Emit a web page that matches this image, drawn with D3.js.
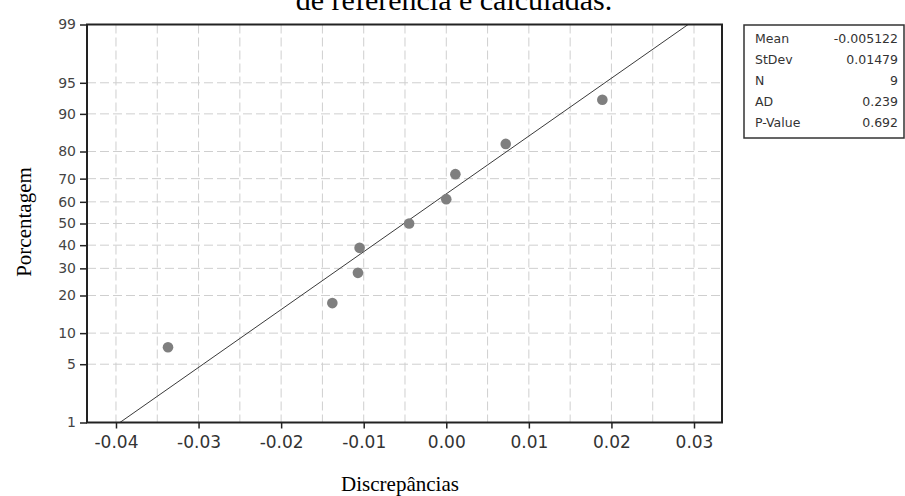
<!doctype html>
<html lang="pt">
<head>
<meta charset="utf-8">
<title>Gráfico de probabilidade normal</title>
<script src="https://cdn.jsdelivr.net/npm/d3@7"></script>
<style>
  body { margin: 0; background: #fff; }
  svg { display: block; }
</style>
</head>
<body>
<script>
// values
var discrepancias = [-0.0337, -0.0138, -0.0107, -0.0105, -0.0045, 0.0000, 0.0011, 0.0072, 0.0189];
var porcentagem   = [7.4, 17.6, 28.2, 38.8, 50.0, 61.2, 71.8, 82.4, 92.6];
var xTicks = [-0.04, -0.03, -0.02, -0.01, 0.00, 0.01, 0.02, 0.03];
var xGrid  = [-0.04, -0.035, -0.03, -0.025, -0.02, -0.015, -0.01, -0.005, 0, 0.005, 0.01, 0.015, 0.02, 0.025, 0.03];
var yTicks = [1, 5, 10, 20, 30, 40, 50, 60, 70, 80, 90, 95, 99];
var statLabels = ["Mean", "StDev", "N", "AD", "P-Value"];
var statValues = ["-0.005122", "0.01479", "9", "0.239", "0.692"];
var mean = -0.005122, stdev = 0.01479;

var svgW = 905, svgH = 496;
var margin = {top: 24.5, right: 183, bottom: 73.5, left: 87};

// inverse normal cdf (Acklam)
function qnorm(p) {
    var a = [-39.69683028665376, 220.9460984245205, -275.9285104469687, 138.3577518672690, -30.66479806614716, 2.506628277459239];
    var b = [-54.47609879822406, 161.5858368580409, -155.6989798598866, 66.80131188771972, -13.28068155288572];
    var c = [-0.007784894002430293, -0.3223964580411365, -2.400758277161838, -2.549732539343734, 4.374664141464968, 2.938163982698783];
    var d = [0.007784695709041462, 0.3224671290700398, 2.445134137142996, 3.754408661907416];
    var pl = 0.02425, q, r;
    if (p < pl) {
        q = Math.sqrt(-2 * Math.log(p));
        return (((((c[0]*q+c[1])*q+c[2])*q+c[3])*q+c[4])*q+c[5]) / ((((d[0]*q+d[1])*q+d[2])*q+d[3])*q+1);
    }
    if (p > 1 - pl) {
        q = Math.sqrt(-2 * Math.log(1 - p));
        return -(((((c[0]*q+c[1])*q+c[2])*q+c[3])*q+c[4])*q+c[5]) / ((((d[0]*q+d[1])*q+d[2])*q+d[3])*q+1);
    }
    q = p - 0.5; r = q * q;
    return (((((a[0]*r+a[1])*r+a[2])*r+a[3])*r+a[4])*r+a[5])*q / (((((b[0]*r+b[1])*r+b[2])*r+b[3])*r+b[4])*r+1);
}

var xScale = d3.scaleLinear()
               .domain([-0.04351, 0.03339])
               .range([margin.left, svgW - margin.right]);

var zScale = d3.scaleLinear()
               .domain([qnorm(0.01), qnorm(0.99)])
               .range([svgH - margin.bottom, margin.top]);
var yScale = function(pct) { return zScale(qnorm(pct / 100)); };

var x0 = margin.left, x1 = svgW - margin.right;
var y0 = svgH - margin.bottom, y1 = margin.top;

var svg = d3.select("body").append("svg")
            .attr("width", svgW)
            .attr("height", svgH);

// title (cut at the top)
svg.append("text")
   .attr("x", 454).attr("y", 9.5)
   .attr("text-anchor", "middle")
   .attr("font-family", "Liberation Serif, Times New Roman, serif")
   .attr("font-size", "30px")
   .attr("fill", "#000")
   .text("de referência e calculadas.");

// grid
svg.append("g").selectAll("line")
   .data(xGrid)
   .enter().append("line")
   .attr("x1", d => xScale(d)).attr("x2", d => xScale(d))
   .attr("y1", y1).attr("y2", y0)
   .attr("stroke", "#cfcfcf").attr("stroke-width", 1)
   .attr("stroke-dasharray", "9,4");

svg.append("g").selectAll("line")
   .data(yTicks.filter(d => d > 1 && d < 99))
   .enter().append("line")
   .attr("x1", x0).attr("x2", x1)
   .attr("y1", d => yScale(d)).attr("y2", d => yScale(d))
   .attr("stroke", "#cfcfcf").attr("stroke-width", 1)
   .attr("stroke-dasharray", "9,4");

// fitted line
var clip = svg.append("clipPath").attr("id", "plotclip")
              .append("rect").attr("x", x0).attr("y", y1).attr("width", x1 - x0).attr("height", y0 - y1);
svg.append("line")
   .attr("clip-path", "url(#plotclip)")
   .attr("x1", xScale(mean + stdev * qnorm(0.01))).attr("y1", yScale(1))
   .attr("x2", xScale(mean + stdev * qnorm(0.99))).attr("y2", yScale(99))
   .attr("stroke", "#3a3a3a").attr("stroke-width", 1);

// points
svg.append("g").selectAll("circle")
   .data(discrepancias)
   .enter().append("circle")
   .attr("cx", d => xScale(d))
   .attr("cy", (d, i) => yScale(porcentagem[i]))
   .attr("r", 5.3)
   .attr("fill", "#7f7f7f");

// axes
var xAxis = d3.axisBottom(xScale)
              .tickValues(xTicks)
              .tickSize(6)
              .tickSizeOuter(0)
              .tickFormat(d3.format(".2f"));
var yAxis = d3.axisLeft(zScale)
              .tickValues(yTicks.map(d => qnorm(d / 100)))
              .tickSize(7)
              .tickSizeOuter(0)
              .tickFormat((d, i) => yTicks[i]);

var gx = svg.append("g")
   .attr("transform", "translate(0," + y0 + ")")
   .call(xAxis);
gx.select(".domain").remove();
gx.selectAll("line").attr("stroke", "#222").attr("stroke-width", 1.5);
gx.selectAll("text")
  .attr("font-family", "DejaVu Sans, sans-serif")
  .attr("font-size", "17px")
  .attr("fill", "#333")
  .attr("dy", "0.95em")
  .text(d => d3.format(".2f")(d).replace("−", "-"));

var gy = svg.append("g")
   .attr("transform", "translate(" + x0 + ",0)")
   .call(yAxis);
gy.select(".domain").remove();
gy.selectAll("line").attr("stroke", "#222").attr("stroke-width", 1.5);
gy.selectAll("text")
  .attr("font-family", "DejaVu Sans, sans-serif")
  .attr("font-size", "14px")
  .attr("fill", "#444")
  .attr("x", -11);

// frame
svg.append("rect")
   .attr("x", x0).attr("y", y1)
   .attr("width", x1 - x0).attr("height", y0 - y1)
   .attr("fill", "none")
   .attr("stroke", "#222").attr("stroke-width", 2);

// axis titles
svg.append("text")
   .attr("x", 400).attr("y", 491)
   .attr("text-anchor", "middle")
   .attr("font-family", "Liberation Serif, Times New Roman, serif")
   .attr("font-size", "21px")
   .text("Discrepâncias");

svg.append("text")
   .attr("transform", "translate(31,222) rotate(-90)")
   .attr("text-anchor", "middle")
   .attr("font-family", "Liberation Serif, Times New Roman, serif")
   .attr("font-size", "21px")
   .text("Porcentagem");

// stats box
var box = svg.append("g");
box.append("rect")
   .attr("x", 744).attr("y", 25)
   .attr("width", 160).attr("height", 113)
   .attr("fill", "#fff")
   .attr("stroke", "#333").attr("stroke-width", 1.5);
box.selectAll("text.lab")
   .data(statLabels)
   .enter().append("text")
   .attr("class", "lab")
   .attr("x", 755)
   .attr("y", (d, i) => 39 + i * 21)
   .attr("dy", "0.35em")
   .attr("font-family", "DejaVu Sans, sans-serif")
   .attr("font-size", "12.5px")
   .attr("fill", "#333")
   .text(d => d);
box.selectAll("text.val")
   .data(statValues)
   .enter().append("text")
   .attr("class", "val")
   .attr("x", 898)
   .attr("y", (d, i) => 39 + i * 21)
   .attr("dy", "0.35em")
   .attr("text-anchor", "end")
   .attr("font-family", "DejaVu Sans, sans-serif")
   .attr("font-size", "12.5px")
   .attr("fill", "#333")
   .text(d => d);
</script>
</body>
</html>
